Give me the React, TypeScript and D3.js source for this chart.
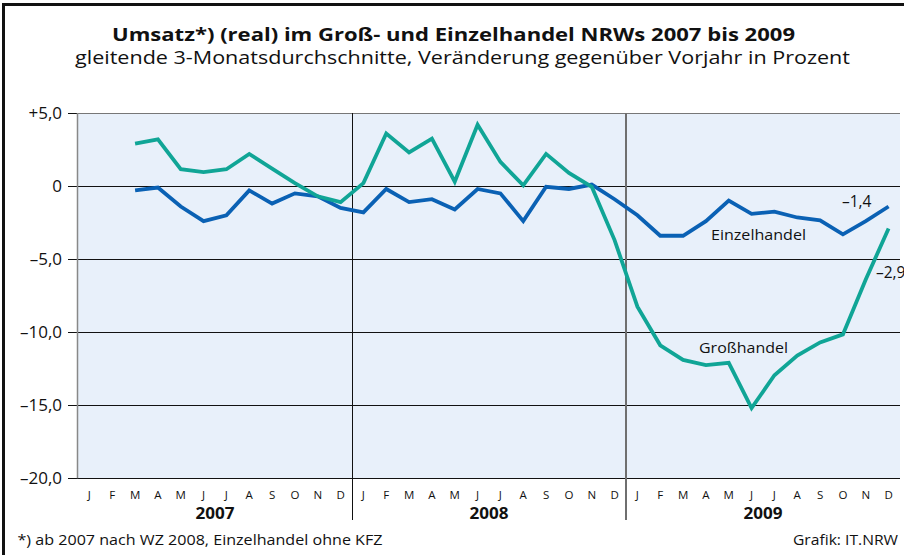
import React from "react";
import * as d3 from "d3";

const years = ["2007", "2008", "2009"];
const monthLetters = ["J", "F", "M", "A", "M", "J", "J", "A", "S", "O", "N", "D"];
const yTicks = [5, 0, -5, -10, -15, -20];
const yTickLabels = ["+5,0", "0", "–5,0", "–10,0", "–15,0", "–20,0"];

const einzelhandel: (number | null)[] = [
  null, null, -0.3, -0.1, -1.4, -2.4, -2.0, -0.3, -1.2, -0.5, -0.7, -1.5,
  -1.8, -0.2, -1.1, -0.9, -1.6, -0.2, -0.5, -2.4, -0.05, -0.2, 0.1, -0.9,
  -2.0, -3.4, -3.4, -2.4, -1.0, -1.9, -1.75, -2.15, -2.35, -3.3, -2.4, -1.4,
];
const grosshandel: (number | null)[] = [
  null, null, 2.9, 3.2, 1.15, 0.95, 1.15, 2.2, 1.2, 0.2, -0.7, -1.1,
  0.2, 3.6, 2.3, 3.25, 0.3, 4.2, 1.65, 0.05, 2.2, 0.9, -0.05, -3.7,
  -8.25, -10.9, -11.9, -12.25, -12.1, -15.2, -12.95, -11.6, -10.7, -10.15, -6.4, -2.9,
];

const W = 904;
const H = 555;
const left = 78;
const right = 900;
const top = 113;
const bottom = 478.3;
const font = "'Open Sans', 'DejaVu Sans', sans-serif";

export default function App() {
  const idx = d3.range(36);
  const x = d3.scaleBand<number>().domain(idx).range([left, right]).padding(0);
  const y = d3.scaleLinear().domain([-20, 5]).range([bottom, top]);
  const cx = (i: number) => (x(i) as number) + x.bandwidth() / 2;

  const line = d3
    .line<number | null>()
    .defined((d) => d != null)
    .x((_, i) => cx(i))
    .y((d) => y(d as number));

  const yearStart = (k: number) => x(k * 12) as number;
  const yearW = x.bandwidth() * 12;

  return (
    <svg
      width={W}
      height={H}
      style={{ position: "absolute", left: 0, top: 0, background: "#fff" }}
      fontFamily={font}
    >
      <rect x={0} y={0} width={W} height={H} fill="#fff" />
      {/* outer frame */}
      <rect x={3.5} y={4.5} width={1000} height={600} fill="none" stroke="#111" strokeWidth={3} />

      <text x={453.5} y={40.5} textAnchor="middle" fontSize={17.5} fontWeight="bold" textLength={683} lengthAdjust="spacingAndGlyphs" fill="#111">
        Umsatz*) (real) im Groß- und Einzelhandel NRWs 2007 bis 2009
      </text>
      <text x={462.5} y={64} textAnchor="middle" fontSize={18} textLength={775} lengthAdjust="spacingAndGlyphs" fill="#111">
        gleitende 3-Monatsdurchschnitte, Veränderung gegenüber Vorjahr in Prozent
      </text>

      {/* plot background */}
      <rect x={left} y={top} width={right - left} height={bottom - top} fill="#e8f0fa" />

      {/* gridlines and ticks */}
      {yTicks.map((t, i) => (
        <g key={t}>
          <line
            x1={68}
            x2={right}
            y1={Math.round(y(t)) + 0.5}
            y2={Math.round(y(t)) + 0.5}
            stroke={t === 5 ? "#777" : "#111"}
            strokeWidth={1}
          />
          {t === 5 && <line x1={68} x2={left} y1={Math.round(y(t)) + 0.5} y2={Math.round(y(t)) + 0.5} stroke="#111" />}
          <text x={62} y={y(t) + 6} textAnchor="end" fontSize={17} fill="#111">
            {yTickLabels[i]}
          </text>
        </g>
      ))}
      {/* left axis line */}
      <line x1={left - 0.5} x2={left - 0.5} y1={top} y2={bottom} stroke="#888" strokeWidth={1.5} />

      {/* year separators */}
      <line x1={Math.round(yearStart(1)) + 0.5} x2={Math.round(yearStart(1)) + 0.5} y1={top} y2={520} stroke="#111" strokeWidth={1} />
      <line x1={Math.round(yearStart(2))} x2={Math.round(yearStart(2))} y1={top} y2={520} stroke="#6f6f6f" strokeWidth={2} />

      {/* lines */}
      <path d={line(einzelhandel) || ""} fill="none" stroke="#0a61b4" strokeWidth={3.8} strokeLinejoin="miter" />
      <path d={line(grosshandel) || ""} fill="none" stroke="#10a596" strokeWidth={3.8} strokeLinejoin="miter" />

      {/* month letters */}
      {idx.map((i) => (
        <text key={i} x={cx(i)} y={499} textAnchor="middle" fontSize={11.5} fill="#111">
          {monthLetters[i % 12]}
        </text>
      ))}
      {years.map((yr, k) => (
        <text key={yr} x={yearStart(k) + yearW / 2} y={518.5} textAnchor="middle" fontSize={16} fontWeight="bold" textLength={39} lengthAdjust="spacingAndGlyphs" fill="#111">
          {yr}
        </text>
      ))}

      {/* annotations */}
      <text x={842} y={207} fontSize={15.5} fill="#111">–1,4</text>
      <text x={876} y={278} fontSize={15.5} fill="#111">–2,9</text>
      <text x={711} y={240} fontSize={15} textLength={95} lengthAdjust="spacingAndGlyphs" fill="#111">Einzelhandel</text>
      <text x={699} y={353} fontSize={15} textLength={89} lengthAdjust="spacingAndGlyphs" fill="#111">Großhandel</text>

      {/* footer */}
      <text x={17.5} y={545} fontSize={14.5} textLength={365} lengthAdjust="spacingAndGlyphs" fill="#111">
        *) ab 2007 nach WZ 2008, Einzelhandel ohne KFZ
      </text>
      <text x={898} y={545} textAnchor="end" fontSize={14.5} textLength={105} lengthAdjust="spacingAndGlyphs" fill="#111">
        Grafik: IT.NRW
      </text>
    </svg>
  );
}
